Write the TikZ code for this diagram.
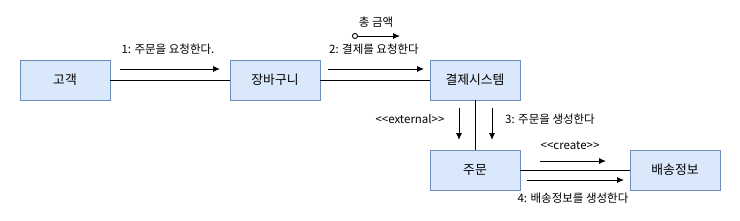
\documentclass[tikz,border=0pt]{standalone}
\usepackage{fontspec}
\setmainfont{Noto Sans CJK KR}
\usetikzlibrary{arrows.meta}
\definecolor{boxfill}{HTML}{DAE8FC}
\definecolor{boxline}{HTML}{6C8EBF}
\tikzset{
  obj/.style={draw=boxline, fill=boxfill, line width=0.9pt, minimum width=90pt, minimum height=40pt, inner sep=0pt, font=\fontsize{12.8}{15}\selectfont},
  lbl/.style={font=\fontsize{11.5}{13}\selectfont, inner sep=0pt},
  msg/.style={-{Latex[length=7pt,width=6pt]}, line width=0.9pt},
  link/.style={line width=0.9pt}
}
\begin{document}
\begin{tikzpicture}[x=1pt,y=-1pt]
\useasboundingbox (0,0) rectangle (740,220);
\node[obj] (cust) at (65,80) {고객};
\node[obj] (cart) at (275,80) {장바구니};
\node[obj] (pay) at (475,80) {결제시스템};
\node[obj] (order) at (475,170) {주문};
\node[obj] (ship) at (675,170) {배송정보};
\draw[link] (cust) -- (cart);
\draw[link] (cart) -- (pay);
\draw[link] (pay) -- (order);
\draw[link] (order) -- (ship);
% message 1
\coordinate (m1a) at (120,69); \coordinate (m1b) at (220,69);
\draw[msg] (m1a) -- (m1b);
\node[lbl] (l1) at (168,49) {1: 주문을 요청한다.};
% message 2
\coordinate (m2a) at (328,69); \coordinate (m2b) at (424,69);
\draw[msg] (m2a) -- (m2b);
\node[lbl] (l2) at (374,49) {2: 결제를 요청한다};
% total amount
\coordinate (taa) at (352,36); \coordinate (tab) at (400,36);
\draw[{Circle[open,length=6pt,width=6pt]}-{Latex[length=7pt,width=6pt]}, line width=0.9pt] (taa) -- (tab);
\node[lbl] (lt) at (376,22) {총 금액};
% vertical messages
\coordinate (m3a) at (459,108); \coordinate (m3b) at (459,140);
\draw[msg] (m3a) -- (m3b);
\coordinate (m4a) at (492,108); \coordinate (m4b) at (492,140);
\draw[msg] (m4a) -- (m4b);
\node[lbl] (lext) at (410,119) {<{}<external>{}>};
\node[lbl] (l3) at (550,119) {3: 주문을 생성한다};
% create
\coordinate (m5a) at (540,161); \coordinate (m5b) at (606,161);
\draw[msg] (m5a) -- (m5b);
\node[lbl] (lcr) at (570,146) {<{}<create>{}>};
\coordinate (m6a) at (527,180); \coordinate (m6b) at (624,180);
\draw[msg] (m6a) -- (m6b);
\node[lbl] (l4) at (573,198) {4: 배송정보를 생성한다};
\end{tikzpicture}
\end{document}
